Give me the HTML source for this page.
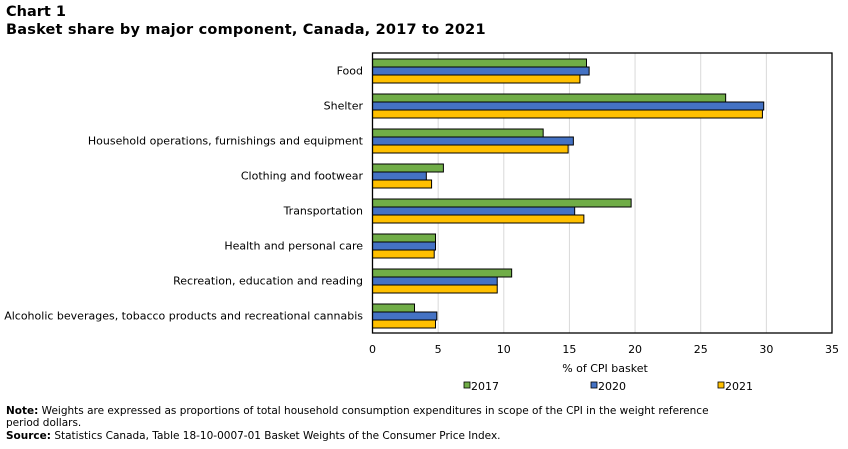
<!DOCTYPE html>
<html><head><meta charset="utf-8"><style>
body{margin:0;background:#fff;font-family:"DejaVu Sans","Liberation Sans",sans-serif;}
#wrap{position:relative;width:848px;height:449px;overflow:hidden}
.t{position:absolute;left:6px;font-weight:bold;font-size:14.5px;color:#000}
.note{position:absolute;left:6px;font-size:10.5px;line-height:12px;width:725px;color:#000}
</style></head><body>
<div id="wrap">
<div class="t" style="top:4px">Chart 1</div>
<div class="t" style="top:22px;letter-spacing:0.2px">Basket share by major component, Canada, 2017 to 2021</div>
<svg id="svg" width="848" height="449" style="position:absolute;left:0;top:0"></svg>
<div class="note" style="top:405px"><b>Note:</b> Weights are expressed as proportions of total household consumption expenditures in scope of the CPI in the weight reference period dollars.</div>
<div class="note" style="top:430px;width:800px"><b>Source:</b> Statistics Canada, Table 18-10-0007-01 Basket Weights of the Consumer Price Index.</div>
</div>
<script>
const categories=["Food","Shelter","Household operations, furnishings and equipment","Clothing and footwear","Transportation","Health and personal care","Recreation, education and reading","Alcoholic beverages, tobacco products and recreational cannabis"];
const s2017=[16.3,26.9,13.0,5.4,19.7,4.8,10.6,3.2];
const s2020=[16.5,29.8,15.3,4.1,15.4,4.8,9.5,4.9];
const s2021=[15.8,29.7,14.9,4.5,16.1,4.7,9.5,4.8];
const seriesNames=["2017","2020","2021"];
const xTicks=[0,5,10,15,20,25,30,35];
const colors=["#70ad47","#4472c4","#ffc000"];
const svg=document.getElementById('svg');const NS="http://www.w3.org/2000/svg";
const L=372.5,R=832,T=53,B=333,xmax=35;
const x=v=>L+(R-L)*v/xmax;
const band=(B-T)/categories.length;
function mk(tag,a,txt){const e=document.createElementNS(NS,tag);for(const k in a)e.setAttribute(k,a[k]);if(txt!==undefined)e.textContent=txt;svg.appendChild(e);return e;}
xTicks.forEach((t,i)=>{
 if(i>0&&i<xTicks.length-1){const g=mk('line',{x1:x(t),x2:x(t),y1:T,y2:B,stroke:'#d9d9d9','stroke-width':1});
 
 }
 const lb=mk('text',{x:x(t),y:353,'text-anchor':'middle','font-size':11,fill:'#000'},t);
 
 
});
const series=[s2017,s2020,s2021];
categories.forEach((c,i)=>{
 const cy=T+band*(i+0.5);
 const lb=mk('text',{x:363,y:cy+4,'text-anchor':'end','font-size':11,fill:'#000'},c);
 
 
 series.forEach((s,j)=>{
  const r=mk('rect',{x:x(0),y:cy-11.5+j*8,width:x(s[i])-x(0),height:8,fill:colors[j],stroke:'#000','stroke-width':1});
  
  
 });
});
const bx=mk('rect',{x:L,y:T,width:R-L,height:B-T,fill:'none',stroke:'#000','stroke-width':1.3});


const at=mk('text',{x:605,y:372,'text-anchor':'middle','font-size':11,fill:'#000'},'% of CPI basket');


const lx=[464,591,718];
seriesNames.forEach((n,j)=>{
 const r=mk('rect',{x:lx[j],y:382,width:6,height:6,fill:colors[j],stroke:'#000','stroke-width':0.8});
 
 
 const t=mk('text',{x:lx[j]+7,y:390,'font-size':11,fill:'#000'},n);
 
 
});
</script>
</body></html>
